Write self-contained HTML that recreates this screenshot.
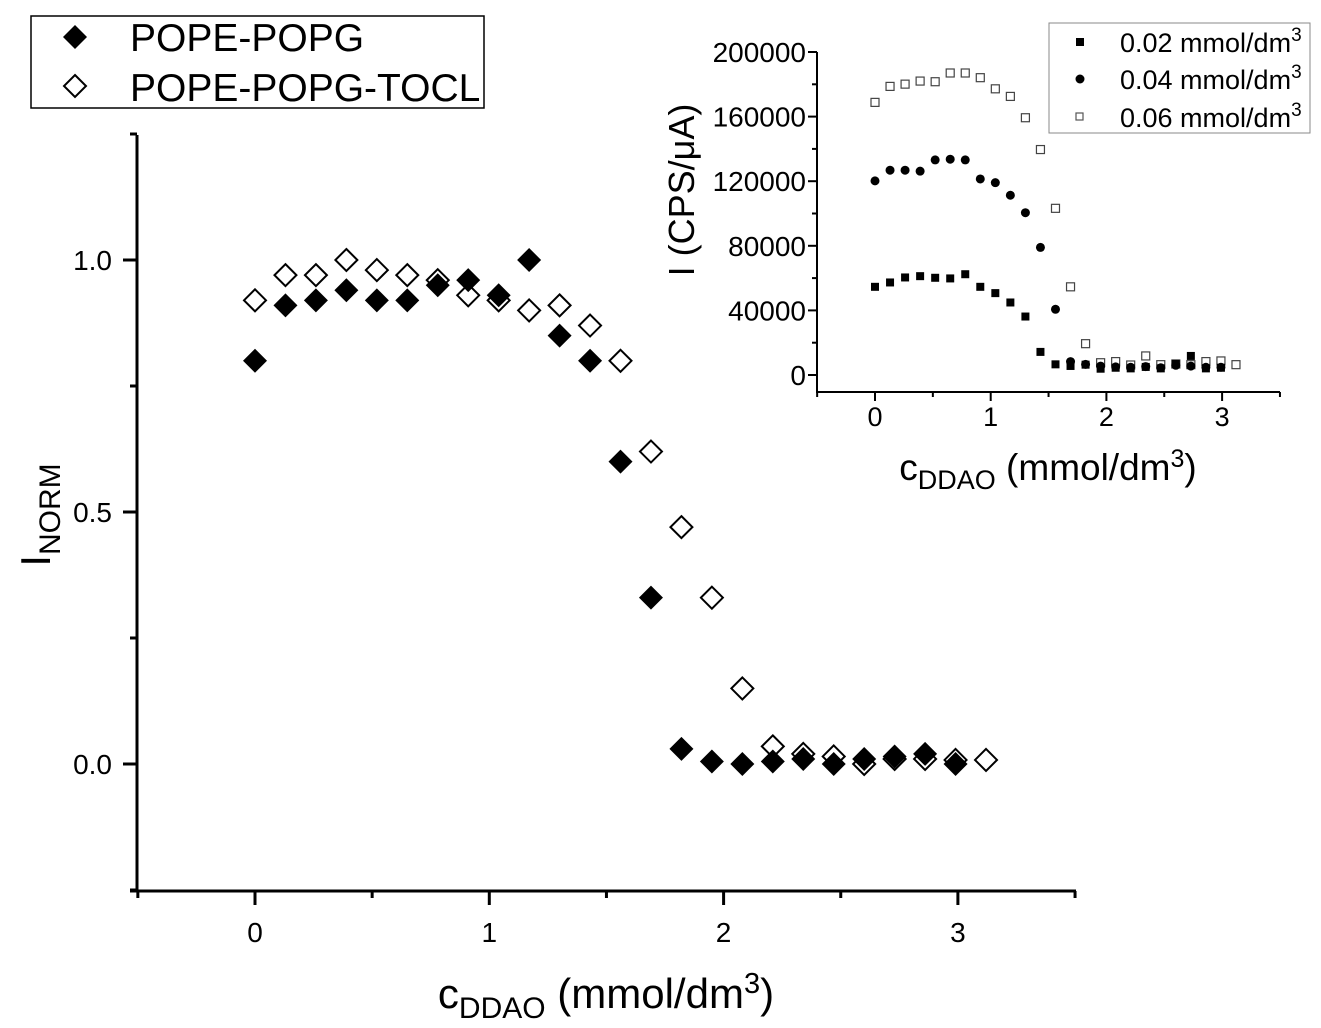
<!DOCTYPE html>
<html><head><meta charset="utf-8"><style>
body{margin:0;background:#fff;}
svg{display:block;font-family:"Liberation Sans",Arial,sans-serif;}
</style></head><body>
<svg id="chart" width="1321" height="1028" viewBox="0 0 1321 1028">
<g id="main-axes"></g>
<g id="main-marks"></g>
<g id="inset"></g>
<g>
 <rect x="31" y="16" width="453" height="92" fill="#fff" stroke="#000" stroke-width="1.5"/>
 <path d="M75 25 L87 37 L75 49 L63 37 Z" fill="#000"/>
 <text x="130" y="51" font-size="39">POPE-POPG</text>
 <path d="M75 75 L86 86 L75 97 L64 86 Z" fill="#fff" stroke="#000" stroke-width="2"/>
 <text x="130" y="101" font-size="39">POPE-POPG-TOCL</text>
</g>
<text x="606" y="1008" font-size="42" text-anchor="middle">c<tspan font-size="30" dy="10">DDAO</tspan><tspan dy="-10"> (mmol/dm</tspan><tspan font-size="29" dy="-15">3</tspan><tspan dy="15">)</tspan></text>
<text transform="translate(50,515) rotate(-90)" font-size="42" text-anchor="middle">I<tspan font-size="30" dy="10">NORM</tspan></text>
<text x="1048" y="480" font-size="37" text-anchor="middle">c<tspan font-size="27" dy="9">DDAO</tspan><tspan dy="-9"> (mmol/dm</tspan><tspan font-size="25" dy="-13">3</tspan><tspan dy="13">)</tspan></text>
<text transform="translate(694,190) rotate(-90)" font-size="36" text-anchor="middle">I (CPS/μA)</text>
<g>
 <rect x="1049" y="23" width="261" height="110" fill="#fff" stroke="#888" stroke-width="1"/>
 <rect x="1076" y="38" width="8" height="8" fill="#000"/>
 <text x="1120" y="52" font-size="27">0.02 mmol/dm<tspan font-size="19" dy="-11">3</tspan></text>
 <circle cx="1080" cy="79" r="4.5" fill="#000"/>
 <text x="1120" y="89" font-size="27">0.04 mmol/dm<tspan font-size="19" dy="-11">3</tspan></text>
 <rect x="1076" y="113" width="7" height="7" fill="#fff" stroke="#555" stroke-width="1.2"/>
 <text x="1120" y="127" font-size="27">0.06 mmol/dm<tspan font-size="19" dy="-11">3</tspan></text>
</g>
</svg>
<script>
const xMain = [0,0.13,0.26,0.39,0.52,0.65,0.78,0.91,1.04,1.17,1.30,1.43,1.56,1.69,1.82,1.95,2.08,2.21,2.34,2.47,2.60,2.73,2.86,2.99,3.12];
const popgValues = [0.80,0.91,0.92,0.94,0.92,0.92,0.95,0.96,0.93,1.0,0.85,0.80,0.60,0.33,0.03,0.005,0.0,0.005,0.01,0.0,0.01,0.015,0.02,0.0];
const toclValues = [0.92,0.97,0.97,1.0,0.98,0.97,0.96,0.93,0.92,0.90,0.91,0.87,0.80,0.62,0.47,0.33,0.15,0.035,0.02,0.015,0.0,0.01,0.01,0.008,0.008];
const mainXTicks = [0,1,2,3];
const mainYTicks = [0.0,0.5,1.0];
const mainYTickLabels = ["0.0","0.5","1.0"];
const inset002 = [54600,57300,60400,61200,60200,59800,62400,54600,50700,44900,36200,14300,6600,5600,6400,3900,4500,4100,5000,4100,7000,11800,4100,4500];
const inset004 = [120200,126800,126800,126200,133200,133600,133200,121400,119100,111300,100500,79000,40700,8300,6600,5500,5000,4800,5200,4500,6000,5500,4800,4800];
const inset006 = [168800,178700,180100,182000,181600,187000,187000,184100,177200,172500,159300,139600,103200,54600,19400,7600,8300,6200,11800,6400,6800,6400,8300,8700,6400];
const insetXTicks = [0,1,2,3];
const insetYTicks = [0,40000,80000,120000,160000,200000];

const NS="http://www.w3.org/2000/svg";
function mk(parent,tag,attrs){const e=document.createElementNS(NS,tag);for(const k in attrs)e.setAttribute(k,attrs[k]);parent.appendChild(e);return e;}
const mx=v=>255+v*234.3, my=v=>764-v*504;
const ax=document.getElementById('main-axes'), mm=document.getElementById('main-marks');
let l=mk(ax,'line',{x1:137,y1:135,x2:137,y2:892,stroke:'#000','stroke-width':3});


l=mk(ax,'line',{x1:130,y1:891,x2:1076,y2:891,stroke:'#000','stroke-width':3});


for(let v=-0.5;v<=3.51;v+=0.5){const major=Math.abs(v-Math.round(v))<1e-6;
 const t=mk(ax,'line',{x1:mx(v),y1:891,x2:mx(v),y2:891+(major?14:7),stroke:'#000','stroke-width':3});
 
 }
mainXTicks.forEach(v=>{const t=mk(ax,'text',{x:mx(v),y:942,'font-size':28,'text-anchor':'middle'});t.textContent=String(v);
 
 });
for(let v=-0.25;v<=1.26;v+=0.25){const major=Math.abs(v*2-Math.round(v*2))<1e-6;
 const t=mk(ax,'line',{x1:137,y1:my(v),x2:137-(major?14:7),y2:my(v),stroke:'#000','stroke-width':3});
 
 }
mainYTicks.forEach((v,i)=>{const t=mk(ax,'text',{x:112,y:my(v)+10,'font-size':28,'text-anchor':'end'});t.textContent=mainYTickLabels[i];
 
 });
function diamond(cx,cy,r){return `M${cx} ${cy-r} L${cx+r} ${cy} L${cx} ${cy+r} L${cx-r} ${cy} Z`;}
popgValues.forEach((v,i)=>{const p=mk(mm,'path',{d:diamond(mx(xMain[i]),my(v),12),fill:'#000'});
 
 });
toclValues.forEach((v,i)=>{const p=mk(mm,'path',{d:diamond(mx(xMain[i]),my(v),11),fill:'none',stroke:'#000','stroke-width':2});
 
 });
const ix=v=>875+v*115.7, iy=v=>375-v*323/200000;
const ins=document.getElementById('inset');
l=mk(ins,'line',{x1:817,y1:52,x2:817,y2:393,stroke:'#000','stroke-width':2});


l=mk(ins,'line',{x1:816,y1:392,x2:1280,y2:392,stroke:'#000','stroke-width':2});


for(let v=-0.5;v<=3.51;v+=0.5){const major=Math.abs(v-Math.round(v))<1e-6;
 const t=mk(ins,'line',{x1:ix(v),y1:392,x2:ix(v),y2:392+(major?9:5),stroke:'#000','stroke-width':2});
 
 }
insetXTicks.forEach(v=>{const t=mk(ins,'text',{x:ix(v),y:426,'font-size':27,'text-anchor':'middle'});t.textContent=String(v);
 
 });
for(let v=0;v<=200000;v+=20000){const major=v%40000===0;
 const t=mk(ins,'line',{x1:817,y1:iy(v),x2:817-(major?9:5),y2:iy(v),stroke:'#000','stroke-width':2});
 
 }
insetYTicks.forEach(v=>{const t=mk(ins,'text',{x:806,y:iy(v)+10,'font-size':28,'text-anchor':'end'});t.textContent=String(v);
 
 });
inset006.forEach((v,i)=>{const p=mk(ins,'rect',{x:ix(xMain[i])-4,y:iy(v)-4,width:8,height:8,fill:'#fff',stroke:'#444','stroke-width':1.2});
 
 });
inset004.forEach((v,i)=>{const p=mk(ins,'circle',{cx:ix(xMain[i]),cy:iy(v),r:4.5,fill:'#000'});
 
 });
inset002.forEach((v,i)=>{const p=mk(ins,'rect',{x:ix(xMain[i])-4,y:iy(v)-4,width:8,height:8,fill:'#000'});
 
 });
</script>
</body></html>
